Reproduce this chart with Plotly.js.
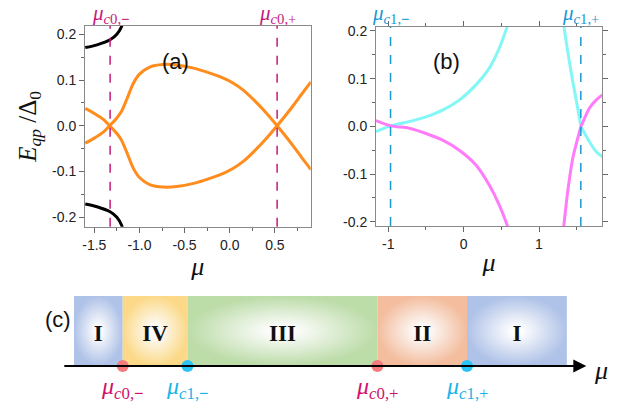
<!DOCTYPE html>
<html>
<head>
<meta charset="utf-8">
<script src="https://cdn.plot.ly/plotly-3.0.1.min.js"></script>
<style>html,body{margin:0;padding:0;background:#fff}#chart{width:625px;height:407px}</style>
</head>
<body>
<div id="chart"></div>
<script>
// ---------- Panel (a) data ----------
const muOrange = [-1.6, -1.5, -1.4, -1.33, -1.25, -1.2, -1.14, -1.07, -1.0, -0.88, -0.74, -0.59, -0.4, -0.22, -0.07, 0.04, 0.15, 0.27, 0.4, 0.525, 0.62, 0.71, 0.8, 0.9];
const orangeUpper = [-0.038, -0.027, -0.014, 0.0, 0.017, 0.031, 0.058, 0.092, 0.113, 0.129, 0.134, 0.133, 0.126, 0.115, 0.104, 0.093, 0.078, 0.056, 0.029, 0.0, -0.023, -0.046, -0.07, -0.096];
const orangeLower = [0.038, 0.027, 0.014, 0.0, -0.017, -0.031, -0.058, -0.092, -0.113, -0.129, -0.134, -0.133, -0.126, -0.115, -0.104, -0.093, -0.078, -0.056, -0.029, 0.0, 0.023, 0.046, 0.07, 0.096];
const muBlack = [-1.6, -1.47, -1.325, -1.25, -1.196, -1.175];
const blackUpper = [0.171, 0.177, 0.188, 0.2, 0.218, 0.235];
const blackLower = [-0.171, -0.177, -0.188, -0.2, -0.218, -0.235];
const muC0 = [-1.325, 0.525];
const muC0Labels = ['<i>μ</i><sub><i>c</i>0,<b>−</b></sub>', '<i>μ</i><sub><i>c</i>0,+</sub>'];

// ---------- Panel (b) data ----------
const muLeftB = [-1.165, -0.965, -0.722, -0.5, -0.279, -0.058, 0.163, 0.34, 0.473, 0.584, 0.62];
const cyanLeft = [-0.011, 0.001, 0.010, 0.020, 0.034, 0.055, 0.087, 0.122, 0.164, 0.212, 0.23];
const magentaLeft = [0.012, 0.001, -0.004, -0.015, -0.029, -0.050, -0.081, -0.123, -0.165, -0.21, -0.228];
const muRightB = [1.31, 1.328, 1.381, 1.448, 1.514, 1.558, 1.58, 1.668, 1.757, 1.84];
const cyanRight = [0.232, 0.212, 0.157, 0.094, 0.038, 0.0, -0.007, -0.032, -0.053, -0.064];
const magentaRight = [-0.235, -0.21, -0.137, -0.067, -0.025, 0.0, 0.008, 0.038, 0.055, 0.066];
const muC1 = [-0.97, 1.555];
const muC1Labels = ['<i>μ</i><sub><i>c</i>1,<b>−</b></sub>', '<i>μ</i><sub><i>c</i>1,+</sub>'];

// ---------- Panel (c) data (schematic) ----------
const phaseNames = ['I', 'IV', 'III', 'II', 'I'];
const phaseEdges = [0, 1, 2.33, 6.23, 8.07, 10.12];
const phaseColors = ['#afc2e8', '#fbd988', '#bcdca8', '#f3bd9e', '#afc2e8'];
const critPoints = [1, 2.33, 6.23, 8.07];
const critLabels = ['<i>μ</i><sub><i>c</i>0,<b>−</b></sub>', '<i>μ</i><sub><i>c</i>1,<b>−</b></sub>', '<i>μ</i><sub><i>c</i>0,+</sub>', '<i>μ</i><sub><i>c</i>1,+</sub>'];
const critDotColors = ['#f47c7c', '#2cc4f4', '#f47c7c', '#2cc4f4'];
const critTextColors = ['#d2106c', '#1ab4ea', '#d2106c', '#1ab4ea'];

// ---------- styles ----------
const ORANGE = '#ff8c1c';
const CYAN = '#82f7f6';
const MAGENTA = '#ff7bfa';
const C0COL = '#c8177a';
const C1COL = '#1b97d2';
const tickFont = {family: 'Liberation Sans, Arial, sans-serif', size: 14, color: '#222'};
const serif = 'Liberation Serif, Times New Roman, serif';

const traces = [];
function line(x, y, color, xa, ya, w) {
  traces.push({x: x, y: y, xaxis: xa, yaxis: ya, mode: 'lines', type: 'scatter',
    line: {color: color, width: w || 3, shape: 'spline', smoothing: 0.8}, hoverinfo: 'skip'});
}
line(muBlack, blackUpper, '#000', 'x', 'y');
line(muBlack, blackLower, '#000', 'x', 'y');
line(muOrange, orangeUpper, ORANGE, 'x', 'y');
line(muOrange, orangeLower, ORANGE, 'x', 'y');
line(muLeftB, cyanLeft, CYAN, 'x2', 'y2');
line(muLeftB, magentaLeft, MAGENTA, 'x2', 'y2');
line(muRightB, cyanRight, CYAN, 'x2', 'y2');
line(muRightB, magentaRight, MAGENTA, 'x2', 'y2');

// phase boxes
for (let i = 0; i < phaseNames.length; i++) {
  const l = phaseEdges[i], r = phaseEdges[i + 1];
  traces.push({
    x: [l, r, r, l, l], y: [0, 0, 1, 1, 0], xaxis: 'x3', yaxis: 'y3', type: 'scatter', mode: 'lines',
    fill: 'toself', line: {width: 0, color: 'rgba(0,0,0,0)'},
    fillcolor: phaseColors[i],
    fillgradient: {type: 'radial', colorscale: [[0, '#ffffff'], [0.12, '#fdfdfd'], [1, phaseColors[i]]]},
    hoverinfo: 'skip'
  });
}
// phase names
traces.push({
  x: phaseNames.map((_, i) => (phaseEdges[i] + phaseEdges[i + 1]) / 2),
  y: phaseNames.map(() => 0.44),
  text: phaseNames.map(s => '<b>' + s + '</b>'),
  mode: 'text', type: 'scatter', xaxis: 'x3', yaxis: 'y3',
  textfont: {family: serif, size: 23, color: '#111'}, hoverinfo: 'skip', cliponaxis: false
});

const shapes = [];
const annotations = [];
// dashed critical lines
muC0.forEach((m, i) => {
  shapes.push({type: 'line', xref: 'x', yref: 'y domain', x0: m, x1: m, y0: 0, y1: 1,
    line: {color: C0COL, width: 1.5, dash: 'dash'}});
  annotations.push({xref: 'x', yref: 'paper', x: m, y: 1 - 14 / 407, text: muC0Labels[i], showarrow: false,
    font: {family: serif, size: 21, color: C0COL}, xanchor: 'center', yanchor: 'middle'});
});
muC1.forEach((m, i) => {
  shapes.push({type: 'line', xref: 'x2', yref: 'y2 domain', x0: m, x1: m, y0: 0, y1: 1,
    line: {color: C1COL, width: 1.5, dash: 'dash'}});
  annotations.push({xref: 'x2', yref: 'paper', x: m, y: 1 - 14 / 407, text: muC1Labels[i], showarrow: false,
    font: {family: serif, size: 21, color: C1COL}, xanchor: 'center', yanchor: 'middle'});
});

// panel labels
annotations.push({xref: 'paper', yref: 'paper', x: 160 / 625, y: 1 - 47 / 407, text: '(a)', showarrow: false,
  font: {family: 'Liberation Sans, Arial', size: 22, color: '#111'}});
annotations.push({xref: 'paper', yref: 'paper', x: 462 / 625, y: 1 - 47 / 407, text: '(b)', showarrow: false,
  font: {family: 'Liberation Sans, Arial', size: 22, color: '#111'}});
annotations.push({xref: 'paper', yref: 'paper', x: 43 / 625, y: 1 - 334 / 407, text: '(c)', showarrow: false,
  font: {family: 'Liberation Sans, Arial', size: 22, color: '#111'}});

// schematic axis arrow
annotations.push({xref: 'x3', yref: 'y3', axref: 'x3', ayref: 'y3', x: 10.52, y: 0, ax: -0.23, ay: 0,
  text: '', showarrow: true, arrowhead: 2, arrowsize: 1.3, arrowwidth: 2, arrowcolor: '#000', standoff: 0});
annotations.push({xref: 'x3', yref: 'y3', x: 10.82, y: -0.06, text: '<i>μ</i>', showarrow: false,
  font: {family: serif, size: 26, color: '#111'}, xanchor: 'center', yanchor: 'middle'});
critPoints.forEach((c, i) => {
  annotations.push({xref: 'x3', yref: 'y3', x: c, y: -0.31, text: critLabels[i], showarrow: false,
    font: {family: serif, size: 24, color: critTextColors[i]}, xanchor: 'center', yanchor: 'middle'});
});
traces.push({x: critPoints, y: critPoints.map(() => 0), mode: 'markers', type: 'scatter', xaxis: 'x3', yaxis: 'y3',
  marker: {size: 12, color: critDotColors}, cliponaxis: false, hoverinfo: 'skip'});

const frameAxis = {
  showline: true, linecolor: '#8a8a8a', linewidth: 1, mirror: true,
  ticks: 'outside', ticklen: 5, tickcolor: '#666', tickwidth: 1,
  tickfont: tickFont, showgrid: false, zeroline: false, tickmode: 'array', fixedrange: true
};
const yA = [-0.2, -0.1, 0, 0.1, 0.2];
const yAText = ['-0.2', '-0.1', '0.0', '0.1', '0.2'];
const xA = [-1.5, -1.0, -0.5, 0, 0.5];
const xAText = ['-1.5', '-1.0', '-0.5', '0.0', '0.5'];
const xB = [-1, 0, 1];
const xBText = ['-1', '0', '1'];

const layout = {
  width: 625, height: 407, margin: {l: 0, r: 0, t: 0, b: 0},
  paper_bgcolor: '#fff', plot_bgcolor: '#fff', showlegend: false,
  xaxis: Object.assign({}, frameAxis, {domain: [85 / 625, 310.7 / 625], range: [-1.603, 0.897],
    tickvals: xA, ticktext: xAText,
    minor: {dtick: 0.25, tick0: 0, ticks: 'outside', ticklen: 3, tickcolor: '#666'},
    title: {text: '<i>μ</i>', font: {family: serif, size: 26, color: '#111'}, standoff: 2}}),
  yaxis: Object.assign({}, frameAxis, {domain: [1 - 226.7 / 407, 1 - 26 / 407], range: [-0.2207, 0.2182],
    tickvals: yA, ticktext: yAText,
    minor: {dtick: 0.05, tick0: 0, ticks: 'outside', ticklen: 3, tickcolor: '#666'},
    title: {text: '<i>E</i><sub><i>qp</i></sub> /Δ<sub>0</sub>', font: {family: serif, size: 25, color: '#111'}, standoff: 8}}),
  xaxis2: Object.assign({}, frameAxis, {anchor: 'y2', domain: [376 / 625, 602.3 / 625], range: [-1.163, 1.84],
    tickvals: xB, ticktext: xBText, mirror: 'allticks',
    minor: {dtick: 0.5, tick0: 0, ticks: 'outside', ticklen: 3, tickcolor: '#666'},
    title: {text: '<i>μ</i>', font: {family: serif, size: 26, color: '#111'}, standoff: 2}}),
  yaxis2: Object.assign({}, frameAxis, {anchor: 'x2', domain: [1 - 226 / 407, 1 - 26.7 / 407], range: [-0.209, 0.209],
    tickvals: yA, ticktext: yAText, mirror: 'allticks',
    minor: {dtick: 0.05, tick0: 0, ticks: 'outside', ticklen: 3, tickcolor: '#666'}}),
  xaxis3: {anchor: 'y3', domain: [0, 1], range: [-1.5195, 11.314], visible: false, fixedrange: true},
  yaxis3: {anchor: 'x3', domain: [0.001, 1 - 296 / 407], range: [-0.58, 1], visible: false, fixedrange: true},
  shapes: shapes, annotations: annotations
};

Plotly.newPlot('chart', traces, layout, {staticPlot: true, displayModeBar: false});
</script>
</body>
</html>
